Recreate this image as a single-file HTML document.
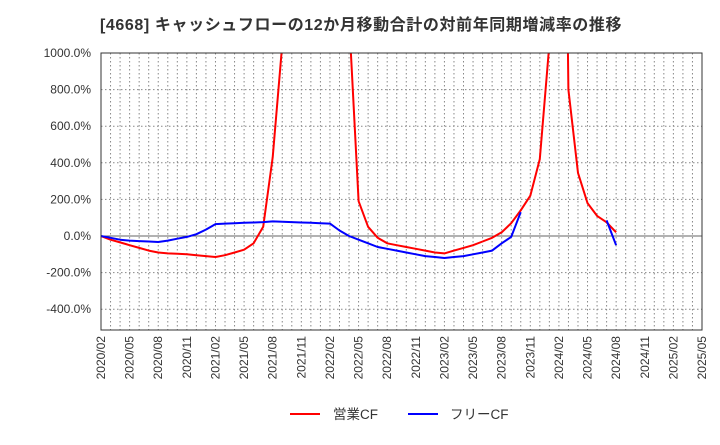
<!DOCTYPE html>
<html><head><meta charset="utf-8"><style>
body{margin:0;background:#fff;font-family:"Liberation Sans","Noto Sans CJK JP",sans-serif}
</style></head><body>
<svg id="c" width="720" height="440" xmlns="http://www.w3.org/2000/svg" font-family="Liberation Sans, Noto Sans CJK JP, sans-serif"></svg>
<script>
const monthCount = 64;
const xTickLabels = ["2020/02","2020/05","2020/08","2020/11","2021/02","2021/05","2021/08","2021/11","2022/02","2022/05","2022/08","2022/11","2023/02","2023/05","2023/08","2023/11","2024/02","2024/05","2024/08","2024/11","2025/02","2025/05"];
const yTicks = [1000,800,600,400,200,0,-200,-400];
const redCF = [0,-20,-35,-50,-65,-80,-90,-95,-97,-100,-105,-110,-115,-105,-90,-75,-40,50,430,1050,null,null,null,null,null,null,1200,190,50,-10,-40,-50,-60,-70,-80,-90,-95,-80,-65,-50,-30,-10,20,70,140,220,420,1050,5000,800,345,180,110,75,20];
const blueCF = [0,-10,-20,-25,-28,-30,-33,-25,-15,-5,10,35,65,68,70,72,74,76,80,78,76,74,72,70,68,30,0,-20,-40,-60,-70,-80,-90,-100,-110,-115,-120,-115,-110,-100,-90,-80,-40,-5,130,null,null,null,null,null,null,null,null,85,-50];
const L=101,R=702,T=53,B=330;
const X=m=>L+(R-L)*m/(monthCount-1);
const Y=v=>236-(v)*(236-53)/1000;
const svg=document.getElementById('c');
const NS='http://www.w3.org/2000/svg';
function mk(t,a,txt){const e=document.createElementNS(NS,t);for(const k in a)e.setAttribute(k,a[k]);if(txt!==undefined)e.textContent=txt;svg.appendChild(e);return e;}
let e=mk('text',{x:100,y:30,'font-size':16,'font-weight':'bold',fill:'#333','letter-spacing':'0.6'},'[4668]  キャッシュフローの12か月移動合計の対前年同期増減率の推移');

for(let m=1;m<monthCount-1;m++){e=mk('line',{x1:X(m),x2:X(m),y1:T,y2:B,stroke:'#888','stroke-dasharray':'1.5,2.5','stroke-width':1});
}
yTicks.forEach(v=>{const y=Y(v);
e=mk('line',{x1:L,x2:R,y1:y,y2:y,stroke:v===0?'#666':'#888','stroke-dasharray':v===0?'':'1.5,2.5','stroke-width':1});

e=mk('text',{x:91,y:y+4,'font-size':12,'text-anchor':'end',fill:'#333'},v.toFixed(1)+'%');
});
xTickLabels.forEach((s,i)=>{const x=X(i*3);
e=mk('text',{x:0,y:0,'font-size':12,'text-anchor':'end',fill:'#333',transform:`translate(${x+4},${B+6}) rotate(-90)`},s);
});
const defs=mk('defs',{});const cp=document.createElementNS(NS,'clipPath');cp.setAttribute('id','pc');
const cr=document.createElementNS(NS,'rect');cr.setAttribute('x',L);cr.setAttribute('y',T);cr.setAttribute('width',R-L);cr.setAttribute('height',B-T);cp.appendChild(cr);defs.appendChild(cp);
function series(arr,col,name){let d='',pen=false;arr.forEach((v,i)=>{if(v===null){pen=false;return;}d+=(pen?'L':'M')+X(i).toFixed(1)+' '+Y(v).toFixed(1)+' ';pen=true;});
const p=mk('path',{d:d,fill:'none',stroke:col,'stroke-width':2,'clip-path':'url(#pc)','stroke-linejoin':'round'});
}
series(redCF,'#ff0000','operating-cf-line');
series(blueCF,'#0000ff','free-cf-line');
e=mk('rect',{x:L,y:T,width:R-L,height:B-T,fill:'none',stroke:'#333','stroke-width':1});

e=mk('line',{x1:290,x2:320,y1:414,y2:414,stroke:'#ff0000','stroke-width':2});
e=mk('text',{x:333,y:419,'font-size':13.5,fill:'#333'},'営業CF');
e=mk('line',{x1:408,x2:438,y1:414,y2:414,stroke:'#0000ff','stroke-width':2});
e=mk('text',{x:450,y:419,'font-size':13.5,fill:'#333'},'フリーCF');
</script>
</body></html>
